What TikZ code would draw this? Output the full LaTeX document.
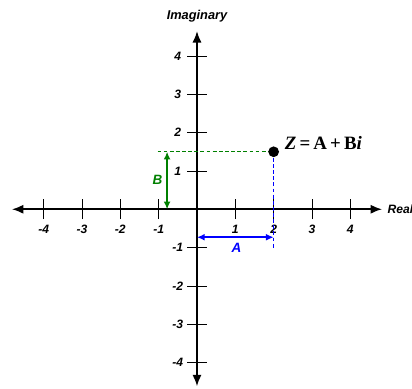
\documentclass[tikz,border=0pt]{standalone}
\usepackage{fontspec}
\setmainfont{Liberation Sans}
\newfontfamily\serifbf{Liberation Serif}
\usetikzlibrary{arrows.meta,positioning}
\definecolor{reb}{RGB}{0,0,255}
\definecolor{imb}{RGB}{0,128,0}
\begin{document}
\begin{tikzpicture}[>=Latex,
ax/.style={line width=1.4pt,{Latex[length=3mm,width=2.4mm]}-{Latex[length=3mm,width=2.4mm]}},
tk/.style={line width=0.6pt},
lb/.style={font=\fontsize{9}{10}\selectfont\bfseries\itshape,inner sep=1pt},
gd/.style={draw=imb,line width=0.9pt},
bd/.style={draw=reb,line width=0.9pt},
ga/.style={color=imb,line width=1.1pt,{Latex[length=2mm,width=1.8mm]}-{Latex[length=2mm,width=1.8mm]}},
ba/.style={color=reb,line width=1.1pt,{Latex[length=2mm,width=1.8mm]}-{Latex[length=2mm,width=1.8mm]}}]
\useasboundingbox (-5.14,-4.67) rectangle (5.61,5.46);
\coordinate (o) at (0,0);
\coordinate (xl) at (-4.83,0); \coordinate (xr) at (4.83,0);
\coordinate (yb) at (0,-4.62); \coordinate (yt) at (0,4.65);
\draw[ax] (xl)--(xr); \draw[ax] (yb)--(yt);
\node[lb,anchor=west] (re) at (4.93,0) {Real};
\node[lb,font=\fontsize{9.5}{11}\selectfont\bfseries\itshape] (im) at (0,5.05) {Imaginary};
\foreach \i in {-4,...,-1,1,2,3,4}{
\draw[tk] (\i,-0.26)--(\i,0.26); \draw[tk] (-0.26,\i)--(0.26,\i);
\node[lb] (x\i) at (\i,-0.52) {\i};
\node[lb] (y\i) at (-0.5,\i) {\i};}
% point Z, dashed guides
\coordinate (z) at (2,1.5);
\foreach \t in {-1.03,-0.87,...,1.9}{\draw[gd] (\t,1.5)--++(0.1,0);}
\foreach \t in {1.5,1.34,...,-0.95}{\draw[bd] (2,\t)--++(0,-0.1);}
\fill (z) circle (0.14);
\node[anchor=west,font=\serifbf\fontsize{14}{16}\selectfont\bfseries] (zl) at (2.17,1.72) {\textit{Z}\,=\,A\,+\,B\textit{i}};
% A and B
\coordinate (b0) at (-0.78,0); \coordinate (b1) at (-0.78,1.5);
\draw[ga] (b0)--(b1);
\node[lb,text=imb,font=\fontsize{10}{11}\selectfont\bfseries\itshape] (bl) at (-1.03,0.76) {B};
\coordinate (a0) at (0,-0.73); \coordinate (a1) at (2,-0.73);
\draw[ba] (a0)--(a1);
\node[lb,text=reb,font=\fontsize{10}{11}\selectfont\bfseries\itshape] (al) at (1.03,-1.02) {A};
\end{tikzpicture}
\end{document}
